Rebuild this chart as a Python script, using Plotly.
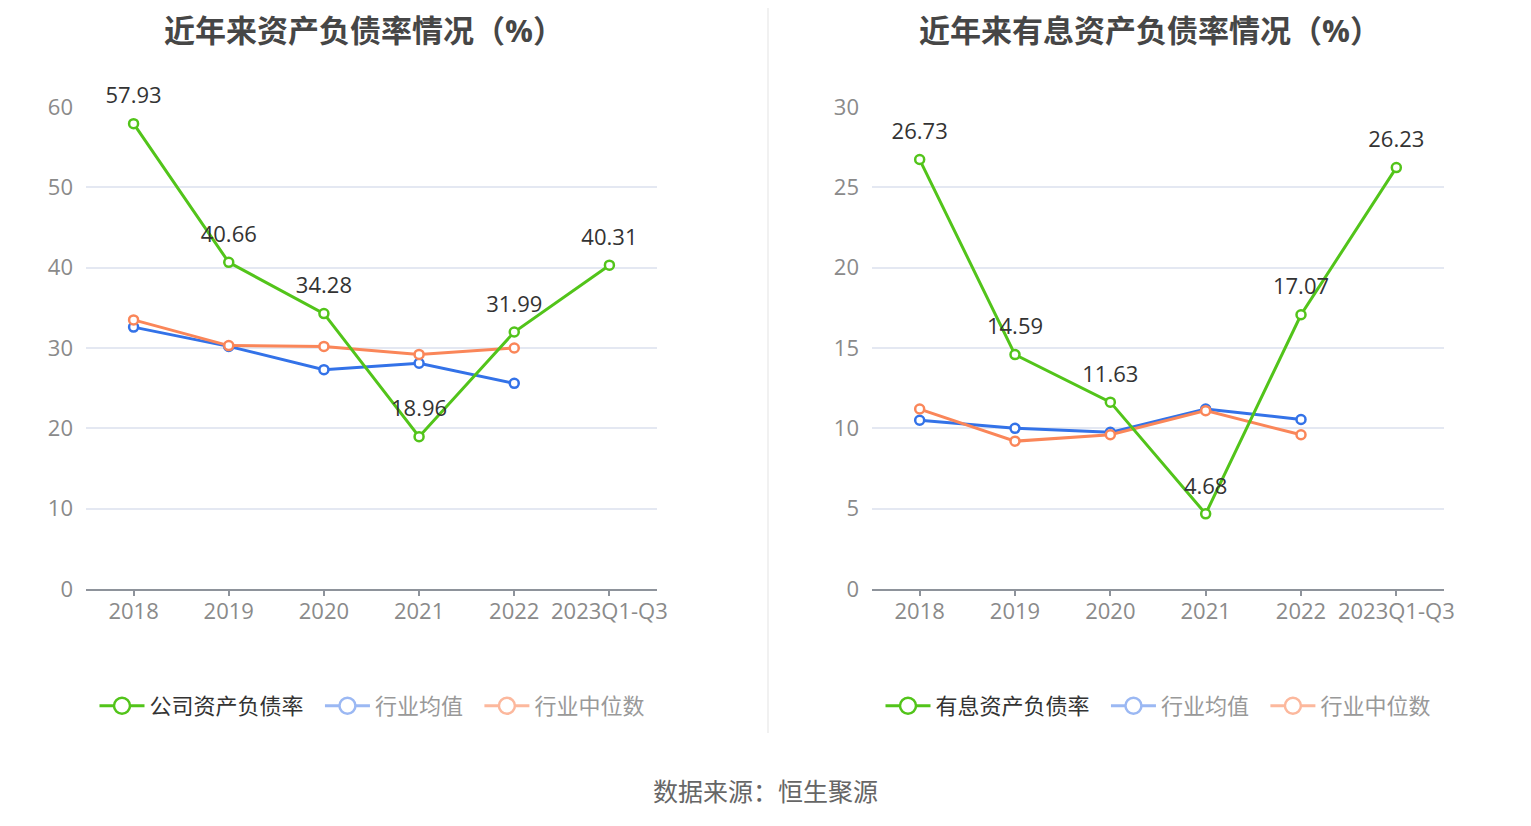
import plotly.graph_objects as go

categories = ["2018", "2019", "2020", "2021", "2022", "2023Q1-Q3"]

# Left chart: asset-liability ratio (%)
company_debt_ratio = [57.93, 40.66, 34.28, 18.96, 31.99, 40.31]
industry_avg_left = [32.6, 30.2, 27.3, 28.1, 25.6, None]
industry_median_left = [33.5, 30.3, 30.2, 29.2, 30.0, None]

# Right chart: interest-bearing asset-liability ratio (%)
interest_debt_ratio = [26.73, 14.59, 11.63, 4.68, 17.07, 26.23]
industry_avg_right = [10.5, 10.0, 9.75, 11.2, 10.55, None]
industry_median_right = [11.2, 9.2, 9.6, 11.1, 9.6, None]

left_title = "近年来资产负债率情况（%）"
right_title = "近年来有息资产负债率情况（%）"
left_names = ["公司资产负债率", "行业均值", "行业中位数"]
right_names = ["有息资产负债率", "行业均值", "行业中位数"]
source_text = "数据来源：恒生聚源"

GREEN = "#52c41a"
BLUE = "#3372e8"
ORANGE = "#fa8659"
BLUE_FADE = "#9bb8f3"
ORANGE_FADE = "#fcb89d"
FONT = "Open Sans, Noto Sans CJK SC, sans-serif"

# page body has an 8px margin; figure is sized to fit inside the 1531x826 window
OFF = 8
W, H = 1531 - 2 * OFF, 826 - 2 * OFF


def px(xp):
    return (xp - OFF) / W


def py(yp):
    return 1 - (yp - OFF) / H


fig = go.Figure()


def add_panel(xa, ya, main_vals, avg_vals, med_vals, names, legend_name):
    fig.add_trace(go.Scatter(
        x=categories, y=avg_vals, xaxis=xa, yaxis=ya, mode="lines+markers",
        line=dict(color=BLUE, width=3),
        marker=dict(symbol="circle", size=9, color="white", line=dict(color=BLUE, width=2.5)),
        showlegend=False, hoverinfo="skip", connectgaps=False, cliponaxis=False))
    fig.add_trace(go.Scatter(
        x=categories, y=med_vals, xaxis=xa, yaxis=ya, mode="lines+markers",
        line=dict(color=ORANGE, width=3),
        marker=dict(symbol="circle", size=9, color="white", line=dict(color=ORANGE, width=2.5)),
        showlegend=False, hoverinfo="skip", connectgaps=False, cliponaxis=False))
    fig.add_trace(go.Scatter(
        x=categories, y=main_vals, xaxis=xa, yaxis=ya, mode="lines+markers",
        line=dict(color=GREEN, width=3),
        marker=dict(symbol="circle", size=9, color="white", line=dict(color=GREEN, width=2.5)),
        showlegend=False, hoverinfo="skip", cliponaxis=False))
    # value labels (transparent larger markers give the label offset above the point)
    fig.add_trace(go.Scatter(
        x=categories, y=main_vals, xaxis=xa, yaxis=ya, mode="markers+text",
        marker=dict(size=22, color="rgba(0,0,0,0)"),
        text=[f"{v:.2f}" for v in main_vals], textposition="top center",
        textfont=dict(family=FONT, size=22, color="#333333"),
        showlegend=False, hoverinfo="skip", cliponaxis=False))
    for nm, col, tcol in [(names[0], GREEN, "#333333"), (names[1], BLUE_FADE, "#999999"),
                          (names[2], ORANGE_FADE, "#999999")]:
        fig.add_trace(go.Scatter(
            x=[None], y=[None], xaxis=xa, yaxis=ya, mode="lines+markers",
            name=f"<span style='color:{tcol}'>{nm}</span>&nbsp;&nbsp;",
            line=dict(color=col, width=3),
            marker=dict(symbol="circle", size=16, color="white", line=dict(color=col, width=2.5)),
            legend=legend_name, showlegend=True))


add_panel("x", "y", company_debt_ratio, industry_avg_left, industry_median_left, left_names, "legend")
add_panel("x2", "y2", interest_debt_ratio, industry_avg_right, industry_median_right, right_names, "legend2")

ydom = [py(589), py(107)]
xaxis_common = dict(
    type="category", range=[-0.5, 5.5], showgrid=False, zeroline=False,
    showline=True, linecolor="#8e939b", linewidth=2,
    ticks="outside", ticklen=5, tickwidth=1.5, tickcolor="#8e939b",
    tickfont=dict(family=FONT, size=22, color="#8a8a8a"), fixedrange=True, automargin=False,
    ticklabelstandoff=-3,
)
yaxis_common = dict(
    showgrid=True, gridcolor="#e4e8f2", gridwidth=1.5, zeroline=False, showline=False,
    ticks="", tickfont=dict(family=FONT, size=22, color="#8a8a8a"),
    ticklabelstandoff=12, fixedrange=True, automargin=False,
)

legend_common = dict(orientation="h", xanchor="center", yanchor="middle",
                     font=dict(family=FONT, size=22), bgcolor="rgba(0,0,0,0)",
                     itemclick=False, itemdoubleclick=False, itemwidth=45)

title_y = 1

fig.update_layout(
    width=W, height=H, autosize=False,
    margin=dict(l=0, r=0, t=0, b=0, pad=0, autoexpand=False),
    paper_bgcolor="white", plot_bgcolor="white",
    font=dict(family=FONT),
    xaxis=dict(domain=[px(86), px(657)], anchor="y", **xaxis_common),
    yaxis=dict(domain=ydom, anchor="x", range=[0, 60], dtick=10, **yaxis_common),
    xaxis2=dict(domain=[px(872), px(1444)], anchor="y2", **xaxis_common),
    yaxis2=dict(domain=ydom, anchor="x2", range=[0, 30], dtick=5, **yaxis_common),
    legend=dict(x=px(378), y=py(706), **legend_common),
    legend2=dict(x=px(1164), y=py(706), **legend_common),
    showlegend=True,
    annotations=[
        dict(text=f"<b>{left_title}</b>", x=px(364), y=title_y, xref="paper", yref="paper",
             xanchor="center", yanchor="top", showarrow=False, borderpad=0,
             font=dict(family=FONT, size=31, color="#464646")),
        dict(text=f"<b>{right_title}</b>", x=px(1150), y=title_y, xref="paper", yref="paper",
             xanchor="center", yanchor="top", showarrow=False, borderpad=0,
             font=dict(family=FONT, size=31, color="#464646")),
        dict(text=source_text, x=px(765), y=py(791), xref="paper", yref="paper",
             xanchor="center", yanchor="middle", showarrow=False,
             font=dict(family=FONT, size=25, color="#666666")),
    ],
    shapes=[
        dict(type="line", xref="paper", yref="paper", x0=px(768), x1=px(768),
             y0=py(733), y1=1, line=dict(color="#ececec", width=1.5)),
    ],
)

fig.write_html("out.html")
